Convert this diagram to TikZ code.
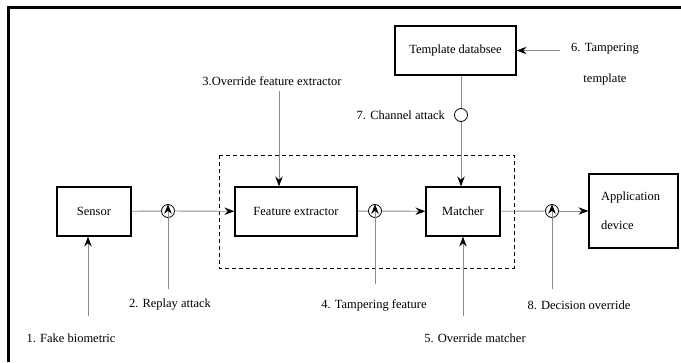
\documentclass[tikz,border=0pt]{standalone}
\usepackage{fontspec}
\setmainfont{Liberation Serif}
\usepackage{tikz}
\usetikzlibrary{arrows.meta,positioning}
\tikzset{
  blok/.style={draw=black,line width=1.3pt,minimum height=49pt,inner sep=0pt,font=\fontsize{12.5}{15}\selectfont},
  tochka/.style={circle,draw=black,line width=0.8pt,minimum size=13pt,inner sep=0pt},
  liniya/.style={draw=black!45,line width=0.9pt},
  strelka/.style={liniya,-{Stealth[black,length=10pt,width=7.5pt,inset=3.5pt]}},
  podpis/.style={font=\fontsize{12.5}{15}\selectfont,inner sep=0pt}
}

\begin{document}
\begin{tikzpicture}[x=1pt,y=-1pt]
		\useasboundingbox (0,0) rectangle (681,362);
		\fill[white] (0,0) rectangle (681,362);
		\draw[line width=3pt] (8,362) -- (8,7) -- (681,7);
		% blocks
		\node[blok,minimum width=74pt] (sensor) at (94,211.5) {Sensor};
		\node[blok,minimum width=122pt] (fe) at (296,211.5) {Feature extractor};
		\node[blok,minimum width=74pt] (match) at (463,211.5) {Matcher};
		\node[blok,minimum width=121pt] (tmpl) at (455.5,50.5) {Template databsee};
		\node[blok,minimum height=74pt,text width=65pt,inner xsep=12pt,align=left,font=\fontsize{12.5}{29}\selectfont] (app) at (633.5,211) {Application\\device};
		\draw[dash pattern=on 4pt off 3pt,line width=0.8pt] (219,155) rectangle (514,268);
		% attack points
		\node[tochka] (t1) at (168,211) {};
		\node[tochka] (t2) at (375,211) {};
		\node[tochka] (t3) at (552,211) {};
		\node[tochka] (t7) at (461,115) {};
		\draw[liniya] (sensor) -- (t1);
		\draw[strelka] (t1) -- (fe);
		\draw[liniya] (fe) -- (t2);
		\draw[strelka] (t2) -- (match);
		\draw[liniya] (match) -- (t3);
		\draw[strelka] (t3) -- (app);
		\draw[liniya] (tmpl.south -| t7) -- (t7);
		\draw[strelka] (t7) -- (t7 |- match.north);
		% labels
		\node[podpis] (l1) at (71,338) {1. Fake biometric};
		\coordinate (a1) at (88,316);
		\draw[strelka] (a1) -- (a1 |- sensor.south);
		\node[podpis] (l2) at (170,305) {2. Replay attack};
		\coordinate (a2) at (168,289);
		\draw[strelka] (a2) -- (t1.north);
		\node[podpis] (l3) at (272,81) {3.Override feature extractor};
		\coordinate (a3) at (279,91);
		\draw[strelka] (a3) -- (a3 |- fe.north);
		\node[podpis] (l4) at (374,305) {4. Tampering feature};
		\coordinate (a4) at (375,284);
		\draw[strelka] (a4) -- (t2.north);
		\node[podpis] (l5) at (475,338) {5. Override matcher};
		\coordinate (a5) at (463,316);
		\draw[strelka] (a5) -- (match.south);
		\node[podpis,align=center,font=\fontsize{12.5}{31}\selectfont] (l6) at (605,64.5) {6. Tampering\\template};
		\coordinate (a6) at (560,50.5);
		\draw[strelka] (a6) -- (tmpl.east);
		\node[podpis,left=9pt of t7] (l7) {7. Channel attack};
		\node[podpis] (l8) at (579,305) {8. Decision override};
		\coordinate (a8) at (552,289);
		\draw[strelka] (a8) -- (t3.north);
\end{tikzpicture}
\end{document}
